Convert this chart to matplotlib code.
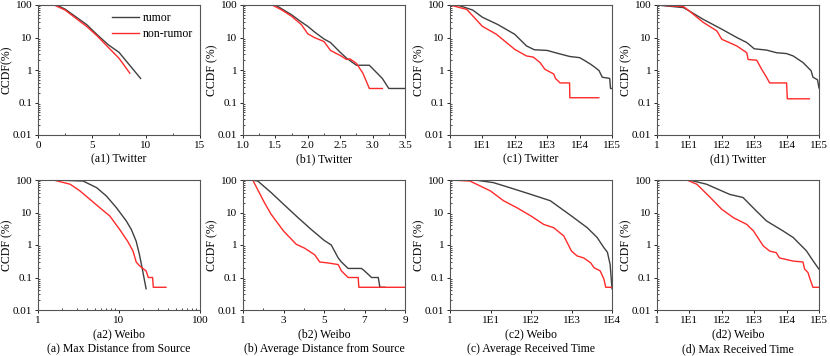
import numpy as np
import matplotlib.pyplot as plt
from matplotlib.ticker import NullFormatter, MultipleLocator

plt.rcParams['font.family'] = ['Liberation Serif', 'DejaVu Serif']
plt.rcParams['font.size'] = 8

# ---- data ----
# (a1) Twitter, max distance
a1_rum_x = [0.5, 1.7, 2.5, 4.5, 5.5, 6.5, 7.5, 9.5]
a1_rum_y = [100, 100, 75, 25, 12, 6, 3.5, 0.55]
a1_non_x = [0.5, 1.5, 2.5, 4.5, 5.5, 6.5, 7.5, 8.5]
a1_non_y = [100, 100, 70, 22, 11, 5, 2.3, 0.8]

# (b1) Twitter, average distance
b1_rum_x = [1.0, 1.5, 1.75, 1.9, 2.0, 2.1, 2.25, 2.35, 2.5, 2.6, 2.75, 2.95, 3.15, 3.25, 3.5]
b1_rum_y = [100, 100, 50, 30, 22, 15, 9, 7, 3.5, 2.3, 1.4, 1.4, 0.55, 0.27, 0.27]
b1_non_x = [1.0, 1.45, 1.6, 1.75, 1.9, 2.0, 2.1, 2.25, 2.35, 2.5, 2.6, 2.65, 2.75, 2.85, 2.95, 3.15]
b1_non_y = [100, 100, 70, 45, 25, 13, 10, 7.5, 4, 2.8, 2.1, 2.2, 1.6, 0.8, 0.27, 0.27]

# (c1) Twitter, average received time
c1_rum_x = [1, 2, 5, 10, 30, 100, 230, 400, 1000, 2000, 5000, 1e4, 1.5e4, 2.2e4, 3e4, 4e4, 5e4, 8.5e4, 9e4, 1e5]
c1_rum_y = [100, 95, 70, 42, 25, 12.5, 5.5, 4.2, 4.0, 3.3, 2.6, 2.4, 1.9, 1.5, 1.2, 0.95, 0.6, 0.55, 0.27, 0.27]
c1_non_x = [1, 3.3, 10, 27, 100, 230, 370, 600, 850, 1600, 1800, 2500, 4900, 5000, 3.9e4]
c1_non_y = [100, 73, 22, 12.6, 4.3, 2.7, 2.5, 1.7, 1.05, 0.75, 0.55, 0.4, 0.4, 0.14, 0.14]

# (d1) Twitter, max received time
d1_rum_x = [1, 6.6, 10, 27, 100, 290, 590, 1000, 2400, 4900, 1e4, 1.6e4, 3.2e4, 5.7e4, 6.5e4, 9e4, 1e5]
d1_rum_y = [100, 83, 65, 36, 18, 10, 7, 4.5, 4.1, 3.4, 3.2, 2.7, 1.7, 0.95, 0.6, 0.5, 0.28]
d1_non_x = [1, 6.6, 10, 27, 70, 100, 290, 590, 650, 1200, 1700, 2400, 3000, 1e4, 1.05e4, 5e4]
d1_non_y = [100, 89, 65, 29, 16, 8.8, 5.5, 3.4, 2.1, 2.0, 1.05, 0.6, 0.4, 0.4, 0.13, 0.13]

# (a2) Weibo, max distance
a2_rum_x = [1.55, 3.6, 5.3, 7, 9.3, 12.3, 14.2, 16.3, 17.9, 19.6, 21.6]
a2_rum_y = [100, 93, 58, 32, 14, 5.5, 3.0, 1.3, 0.5, 0.16, 0.045]
a2_non_x = [1.55, 2.5, 3.3, 5.8, 7.7, 10.2, 12.8, 14.9, 16.3, 17.9, 21.6, 23, 26, 26.5, 38]
a2_non_y = [100, 74, 46, 14, 7.8, 3, 1.3, 0.65, 0.3, 0.23, 0.16, 0.1, 0.1, 0.05, 0.05]

# (b2) Weibo, average distance
b2_rum_x = [1.0, 1.4, 1.73, 2.39, 3.0, 3.71, 4.37, 5.0, 5.36, 5.7, 5.86, 6.19, 6.85, 7.0, 7.35, 7.68, 7.76, 8.0]
b2_rum_y = [100, 100, 93, 41, 18, 7, 3, 1.4, 1.0, 0.4, 0.3, 0.19, 0.19, 0.16, 0.1, 0.1, 0.05, 0.05]
b2_non_x = [1.0, 1.48, 2.06, 2.39, 3.0, 3.63, 4.04, 4.54, 4.79, 5.2, 5.7, 5.86, 6.19, 6.69, 6.72, 9.0]
b2_non_y = [100, 100, 20, 8.8, 2.7, 1.05, 0.8, 0.5, 0.3, 0.28, 0.25, 0.16, 0.1, 0.1, 0.05, 0.05]

# (c2) Weibo, average received time
c2_rum_x = [1, 4.6, 11.8, 30, 100, 300, 1000, 2450, 4300, 6300, 7700, 9000, 1e4]
c2_rum_y = [100, 98, 83, 58, 36, 23, 7.8, 3.4, 1.7, 0.83, 0.6, 0.25, 0.045]
c2_non_x = [1, 3.1, 10, 21, 45, 100, 206, 364, 645, 1000, 1380, 2000, 3000, 3600, 5100, 6300, 7000, 1e4]
c2_non_y = [100, 93, 46, 23, 14, 7.8, 4.3, 3.4, 1.9, 0.65, 0.46, 0.4, 0.28, 0.2, 0.16, 0.09, 0.05, 0.05]

# (d2) Weibo, max received time
d2_rum_x = [1, 10, 34, 176, 450, 1180, 2400, 7800, 1.6e4, 4.1e4, 6.5e4, 1e5]
d2_rum_y = [100, 100, 74, 36, 29, 11, 5.5, 2.7, 1.7, 0.66, 0.33, 0.18]
d2_non_x = [1, 8.3, 17, 44, 100, 230, 590, 950, 1900, 3000, 4800, 6000, 1.6e4, 3.2e4, 3.6e4, 4.1e4, 4.6e4, 5.1e4, 6.5e4, 1e5]
d2_non_y = [100, 100, 74, 29, 12.5, 6.9, 4.3, 2.7, 0.94, 0.65, 0.58, 0.4, 0.32, 0.3, 0.18, 0.16, 0.14, 0.1, 0.05, 0.05]

rum_color = '#404040'
non_color = '#ff2a2a'

W, H = 830, 356
fig = plt.figure(figsize=(W / 100, H / 100), dpi=100)


def make_ax(left, top, right, bottom):
    ax = fig.add_axes([left / W, 1 - bottom / H, (right - left) / W, (bottom - top) / H])
    ax.set_yscale('log')
    ax.set_ylim(0.01, 100)
    ax.set_yticks([0.01, 0.1, 1, 10, 100])
    ax.set_yticklabels(['0.01', '0.1', '1', '10', '100'])
    ax.yaxis.set_minor_formatter(NullFormatter())
    ax.tick_params(direction='out', length=2.5, width=0.6, pad=1.5, labelsize=8)
    ax.tick_params(which='minor', direction='in', length=1.5, width=0.5)
    for s in ax.spines.values():
        s.set_linewidth(0.8)
        s.set_color('#555555')
    # label right edge ~25 px left of the spine
    ax.yaxis.set_label_coords(-25 / (right - left), 0.5)
    return ax


lefts = [38, 243, 450, 657]
rights = [200, 405, 612, 819]
top_row = (5, 135)
bot_row = (180, 310)

rows = [
    [(a1_rum_x, a1_rum_y, a1_non_x, a1_non_y), (b1_rum_x, b1_rum_y, b1_non_x, b1_non_y),
     (c1_rum_x, c1_rum_y, c1_non_x, c1_non_y), (d1_rum_x, d1_rum_y, d1_non_x, d1_non_y)],
    [(a2_rum_x, a2_rum_y, a2_non_x, a2_non_y), (b2_rum_x, b2_rum_y, b2_non_x, b2_non_y),
     (c2_rum_x, c2_rum_y, c2_non_x, c2_non_y), (d2_rum_x, d2_rum_y, d2_non_x, d2_non_y)],
]
sub_top = ['(a1) Twitter', '(b1) Twitter', '(c1) Twitter', '(d1) Twitter']
sub_bot = ['(a2) Weibo', '(b2) Weibo', '(c2) Weibo', '(d2) Weibo']
captions = ['(a) Max Distance from Source', '(b) Average Distance from Source',
            '(c) Average Received Time', '(d) Max Received Time']

for r, (top, bottom) in enumerate([top_row, bot_row]):
    for c in range(4):
        ax = make_ax(lefts[c], top, rights[c], bottom)
        rx, ry, nx, ny = rows[r][c]
        ax.plot(rx, ry, color=rum_color, lw=1.0, label='rumor')
        ax.plot(nx, ny, color=non_color, lw=1.0, label='non-rumor')
        ax.set_ylabel('CCDF(%)' if (r == 0 and c == 0) else 'CCDF (%)', fontsize=8.5)

        if r == 0 and c == 0:
            ax.set_xlim(0, 15)
            ax.set_xticks([0, 5, 10, 15])
            ax.xaxis.set_minor_locator(MultipleLocator(2.5))
            ax.legend(loc='upper right', frameon=False, handlelength=2.3, fontsize=8.5,
                      borderaxespad=0.2, labelspacing=0.35, handletextpad=0.3)
        elif r == 0 and c == 1:
            ax.set_xlim(1.0, 3.5)
            ax.set_xticks([1.0, 1.5, 2.0, 2.5, 3.0, 3.5])
            ax.set_xticklabels(['1.0', '1.5', '2.0', '2.5', '3.0', '3.5'])
            ax.xaxis.set_minor_locator(MultipleLocator(0.25))
        elif r == 1 and c == 0:
            ax.set_xscale('log')
            ax.set_xlim(1, 100)
            ax.set_xticks([1, 10, 100])
            ax.set_xticklabels(['1', '10', '100'])
            ax.xaxis.set_minor_formatter(NullFormatter())
        elif r == 1 and c == 1:
            ax.set_xlim(1, 9)
            ax.set_xticks([1, 3, 5, 7, 9])
            ax.xaxis.set_minor_locator(MultipleLocator(1))
        else:
            ax.set_xscale('log')
            hi = 4 if (r == 1 and c == 2) else 5
            ax.set_xlim(1, 10 ** hi)
            ax.set_xticks([10 ** k for k in range(hi + 1)])
            ax.set_xticklabels(['1'] + ['1E%d' % k for k in range(1, hi + 1)])
            ax.xaxis.set_minor_formatter(NullFormatter())

        cx = (lefts[c] + rights[c]) / 2 / W
        if r == 0:
            fig.text(cx, 1 - 159 / H, sub_top[c], ha='center', va='center', fontsize=8.5)
        else:
            fig.text(cx, 1 - 334 / H, sub_bot[c], ha='center', va='center', fontsize=8.5)
            fig.text(cx, 1 - 349 / H, captions[c], ha='center', va='center', fontsize=8.5)

fig.savefig('out.png', dpi=100)
